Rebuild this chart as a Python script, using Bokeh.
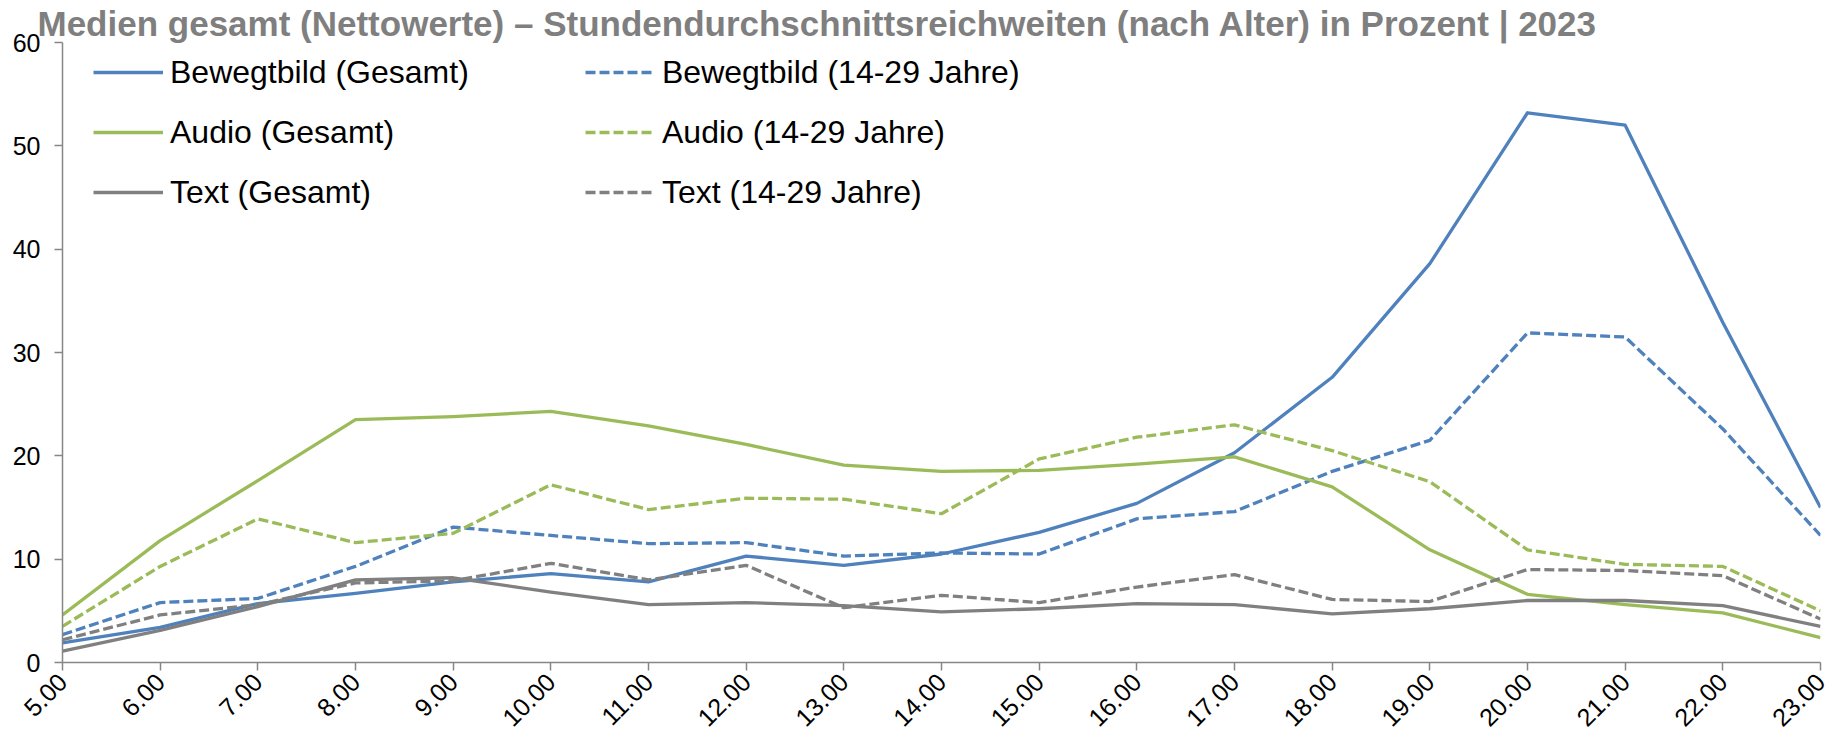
from bokeh.plotting import figure
from bokeh.models import Range1d, FixedTicker, Legend, LegendItem, Title
from bokeh.embed import file_html
from bokeh.resources import INLINE

hours = list(range(5, 24))
hour_labels = [f"{h}.00" for h in hours]
y_ticks = [0, 10, 20, 30, 40, 50, 60]

title_text = "Medien gesamt (Nettowerte) – Stundendurchschnittsreichweiten (nach Alter) in Prozent | 2023"

bewegt_gesamt = [1.9, 3.4, 5.7, 6.7, 7.8, 8.6, 7.8, 10.3, 9.4, 10.5, 12.6, 15.4, 20.3, 27.6, 38.6, 53.2, 52.0, 32.9, 15.0]
bewegt_jung = [2.7, 5.8, 6.2, 9.3, 13.1, 12.3, 11.5, 11.6, 10.3, 10.6, 10.5, 13.9, 14.6, 18.5, 21.5, 31.9, 31.5, 22.6, 12.3]
audio_gesamt = [4.6, 11.8, 17.6, 23.5, 23.8, 24.3, 22.9, 21.1, 19.1, 18.5, 18.6, 19.2, 19.9, 17.0, 10.9, 6.6, 5.6, 4.8, 2.4]
audio_jung = [3.5, 9.3, 13.9, 11.6, 12.5, 17.2, 14.8, 15.9, 15.8, 14.4, 19.7, 21.8, 23.0, 20.5, 17.5, 10.9, 9.5, 9.3, 5.0]
text_gesamt = [1.1, 3.1, 5.4, 8.0, 8.2, 6.8, 5.6, 5.8, 5.5, 4.9, 5.2, 5.7, 5.6, 4.7, 5.2, 6.0, 6.0, 5.5, 3.5]
text_jung = [2.2, 4.6, 5.6, 7.7, 7.9, 9.6, 8.0, 9.4, 5.3, 6.5, 5.8, 7.3, 8.5, 6.1, 5.9, 9.0, 8.9, 8.4, 4.2]

labels_gesamt = ["Bewegtbild (Gesamt)", "Audio (Gesamt)", "Text (Gesamt)"]
labels_jung = ["Bewegtbild (14-29 Jahre)", "Audio (14-29 Jahre)", "Text (14-29 Jahre)"]

BLUE = "#4F81BD"
GREEN = "#9BBB59"
GRAY = "#808080"
DASH = "10 4"

p = figure(width=1835, height=745, output_backend="svg", toolbar_location=None,
           x_range=Range1d(5, 23), y_range=Range1d(0, 60),
           min_border_left=62, min_border_right=15, min_border_top=42, min_border_bottom=83)
p.outline_line_color = None
p.grid.visible = False
p.background_fill_color = "white"

for ax in (p.xaxis[0], p.yaxis[0]):
    ax.axis_line_color = "#868686"
    ax.axis_line_width = 1.5
    ax.major_tick_line_color = "#868686"
    ax.major_tick_line_width = 1.5
    ax.major_tick_in = 0
    ax.major_tick_out = 8
    ax.minor_tick_line_color = None
    ax.major_label_text_font = "Liberation Sans"
    ax.major_label_text_font_size = "25px"
    ax.major_label_text_color = "black"

p.xaxis.ticker = FixedTicker(ticks=hours)
p.xaxis.major_label_overrides = {h: lab for h, lab in zip(hours, hour_labels)}
p.xaxis.major_label_orientation = 0.785398
p.xaxis.major_label_standoff = 7
p.yaxis.ticker = FixedTicker(ticks=y_ticks)
p.yaxis.major_label_standoff = 14

series = [
    (bewegt_gesamt, BLUE, "solid"),
    (bewegt_jung, BLUE, DASH),
    (audio_gesamt, GREEN, "solid"),
    (audio_jung, GREEN, DASH),
    (text_gesamt, GRAY, "solid"),
    (text_jung, GRAY, DASH),
]
renderers = []
for vals, col, dash in series:
    r = p.line(hours, vals, line_color=col, line_width=3.3, line_dash=dash, line_join="round")
    renderers.append(r)

def make_legend(items, vx):
    return Legend(items=items, location=(vx, 450), orientation="vertical",
                  padding=0, margin=0, spacing=20, glyph_width=70, glyph_height=40,
                  label_height=40, label_standoff=7, border_line_color=None,
                  background_fill_alpha=0, label_text_font="Liberation Sans",
                  label_text_font_size="32px", label_text_color="black")

leg1 = make_legend([LegendItem(label=labels_gesamt[i], renderers=[renderers[2 * i]]) for i in range(3)], 31)
leg2 = make_legend([LegendItem(label=labels_jung[i], renderers=[renderers[2 * i + 1]]) for i in range(3)], 523)
p.add_layout(leg1, "center")
p.add_layout(leg2, "center")

p.title = Title(text=title_text, align="left", offset=-25, standoff=0,
                text_font="Liberation Sans", text_font_style="bold",
                text_font_size="35px", text_color="#7F7F7F")

open("out.html", "w").write(file_html(p, INLINE))
